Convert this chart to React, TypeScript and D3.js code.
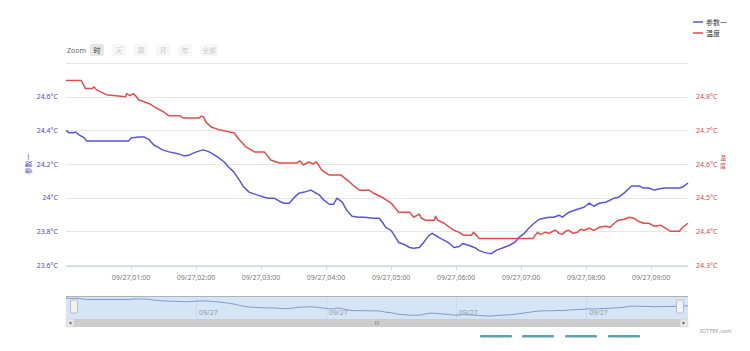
import React, { useEffect, useRef } from 'react';
import * as d3 from 'd3';

const startTime = new Date(2018, 8, 27, 0, 0);
const seriesNames = ['参数一', '温度'];
const leftTicks = [23.6, 23.8, 24, 24.2, 24.4, 24.6, 24.8];
const rightTicks = [24.3, 24.4, 24.5, 24.6, 24.7, 24.8, 24.9];
const zoomButtons = ['时', '天', '周', '月', '年', '全部'];

// [minutes after 00:00, value]
const param1: [number, number][] = [
  [0, 24.4], [3, 24.385], [7, 24.385], [9, 24.39], [12, 24.373], [17, 24.355], [19, 24.337],
  [58, 24.337], [60, 24.355], [67, 24.361], [72, 24.361], [77, 24.343], [81, 24.313],
  [86, 24.296], [89, 24.284], [95, 24.272], [100, 24.266], [104, 24.26], [109, 24.248],
  [114, 24.254], [118, 24.266], [123, 24.278], [127, 24.284], [132, 24.272], [137, 24.254],
  [141, 24.236], [146, 24.212], [150, 24.182], [155, 24.152], [160, 24.104], [164, 24.063],
  [169, 24.033], [174, 24.021], [183, 24.003], [187, 23.997], [192, 23.997], [197, 23.979],
  [201, 23.967], [206, 23.967], [210, 23.997], [215, 24.027], [220, 24.033], [226, 24.045],
  [234, 24.015], [238, 23.985], [243, 23.961], [247, 23.961], [250, 23.997], [255, 23.973],
  [259, 23.925], [264, 23.89], [270, 23.884], [275, 23.884], [284, 23.878], [289, 23.878],
  [292, 23.854], [295, 23.824], [300, 23.806], [303, 23.776], [307, 23.734], [312, 23.722],
  [317, 23.704], [321, 23.699], [326, 23.704], [330, 23.734], [335, 23.776], [338, 23.788],
  [344, 23.764], [349, 23.746], [354, 23.728], [358, 23.704], [363, 23.71], [366, 23.728],
  [372, 23.716], [377, 23.704], [381, 23.687], [386, 23.675], [390, 23.669], [393, 23.669],
  [397, 23.687], [404, 23.704], [409, 23.716], [414, 23.734], [418, 23.764], [423, 23.788],
  [427, 23.818], [432, 23.848], [437, 23.872], [441, 23.878], [446, 23.884], [450, 23.884],
  [455, 23.896], [458, 23.884], [464, 23.913], [472, 23.931], [478, 23.943], [483, 23.967],
  [487, 23.949], [492, 23.967], [498, 23.973], [506, 23.997], [510, 24.003], [515, 24.027],
  [520, 24.057], [522, 24.069], [529, 24.069], [533, 24.057], [538, 24.057], [543, 24.045],
  [547, 24.051], [552, 24.057], [561, 24.057], [566, 24.057], [569, 24.063], [574, 24.087],
];

const temperature: [number, number][] = [
  [0, 24.848], [14, 24.848], [18, 24.824], [24, 24.824], [26, 24.829], [28, 24.821],
  [37, 24.806], [55, 24.8], [56, 24.809], [59, 24.803], [62, 24.809], [65, 24.8],
  [67, 24.791], [77, 24.779], [83, 24.767], [90, 24.755], [95, 24.743], [105, 24.743],
  [108, 24.737], [123, 24.737], [125, 24.742], [127, 24.74], [129, 24.725], [134, 24.71],
  [141, 24.702], [150, 24.696], [155, 24.693], [160, 24.672], [166, 24.651], [174, 24.636],
  [183, 24.636], [189, 24.612], [197, 24.603], [213, 24.603], [216, 24.609], [219, 24.597],
  [224, 24.606], [228, 24.6], [231, 24.606], [233, 24.597], [236, 24.582], [243, 24.567],
  [254, 24.567], [256, 24.561], [262, 24.546], [266, 24.534], [271, 24.522], [280, 24.522],
  [284, 24.513], [293, 24.499], [300, 24.484], [303, 24.472], [307, 24.457], [317, 24.457],
  [321, 24.442], [326, 24.451], [328, 24.439], [332, 24.433], [340, 24.433], [341, 24.445],
  [343, 24.433], [349, 24.424], [354, 24.412], [358, 24.403], [363, 24.397], [367, 24.388],
  [374, 24.388], [376, 24.397], [379, 24.388], [381, 24.379], [431, 24.379], [435, 24.397],
  [438, 24.391], [442, 24.397], [446, 24.394], [449, 24.4], [452, 24.403], [455, 24.394],
  [458, 24.391], [461, 24.4], [464, 24.403], [468, 24.394], [472, 24.397], [475, 24.406],
  [478, 24.403], [483, 24.409], [487, 24.403], [492, 24.412], [498, 24.415], [502, 24.412],
  [506, 24.424], [510, 24.433], [515, 24.436], [520, 24.442], [524, 24.439], [528, 24.43],
  [533, 24.424], [538, 24.424], [543, 24.415], [549, 24.418], [552, 24.412], [558, 24.4],
  [566, 24.4], [569, 24.412], [574, 24.424],
];

const toDate = (m: number) => new Date(startTime.getTime() + m * 60000);

const App = () => {
  const ref = useRef<SVGSVGElement>(null);

  useEffect(() => {
    const width = 750;
    const height = 351;
    const left = 66;
    const right = 688;
    const top = 63;
    const bottom = 265;
    const font = '"Lucida Grande", "Noto Sans", "Noto Sans CJK SC", sans-serif';
    const blue = '#5656d8';
    const red = '#e04d4d';

    const svg = d3.select(ref.current!);
    svg.selectAll('*').remove();
    svg.attr('width', width).attr('height', height).style('font-family', font);

    const lastMin = param1[param1.length - 1][0];
    const x = d3.scaleTime().domain([startTime, toDate(lastMin)]).range([left, right]);
    const yLeft = d3.scaleLinear().domain([23.6, 24.8]).range([bottom, top]);
    const yRight = d3.scaleLinear().domain([24.3, 24.9]).range([bottom, top]);

    // Range selector
    svg.append('text')
      .attr('x', 67).attr('y', 53)
      .attr('font-size', '7px').attr('fill', '#666')
      .text('Zoom');
    zoomButtons.forEach((b, i) => {
      const bx = 90 + i * 22;
      const bw = b.length > 1 ? 18 : 14;
      svg.append('rect')
        .attr('x', bx).attr('y', 44).attr('width', bw).attr('height', 12)
        .attr('rx', 2)
        .attr('fill', i === 0 ? '#e6e6e6' : '#f7f7f7');
      svg.append('text')
        .attr('x', bx + bw / 2).attr('y', 53)
        .attr('text-anchor', 'middle')
        .attr('font-size', '7px')
        .attr('fill', i === 0 ? '#333' : '#ccc')
        .text(b);
    });

    // Legend
    [blue, red].forEach((c, i) => {
      const ly = 22 + i * 11;
      svg.append('line')
        .attr('x1', 693).attr('x2', 703).attr('y1', ly).attr('y2', ly)
        .attr('stroke', c).attr('stroke-width', 1.5);
      svg.append('text')
        .attr('x', 706).attr('y', ly + 2.5)
        .attr('font-size', '7px').attr('fill', '#333')
        .text(seriesNames[i]);
    });

    // Grid
    svg.append('g')
      .selectAll('line')
      .data(leftTicks)
      .enter()
      .append('line')
      .attr('x1', left).attr('x2', right)
      .attr('y1', d => Math.round(yLeft(d)) + 0.5)
      .attr('y2', d => Math.round(yLeft(d)) + 0.5)
      .attr('stroke', '#e6e6e6');

    // Y labels (top one hidden)
    svg.append('g')
      .selectAll('text')
      .data(leftTicks.slice(0, -1))
      .enter()
      .append('text')
      .attr('x', 58).attr('y', d => yLeft(d) + 2.5)
      .attr('text-anchor', 'end')
      .attr('font-size', '7px').attr('fill', '#4a4ab8')
      .text(d => `${d}°C`);

    svg.append('g')
      .selectAll('text')
      .data(rightTicks.slice(0, -1))
      .enter()
      .append('text')
      .attr('x', 696).attr('y', d => yRight(d) + 2.5)
      .attr('font-size', '7px').attr('fill', '#cc4a4a')
      .text(d => `${d}°C`);

    // Axis titles
    svg.append('text')
      .attr('transform', `translate(31,${(top + bottom) / 2}) rotate(-90)`)
      .attr('text-anchor', 'middle')
      .attr('font-size', '7px').attr('fill', '#4a4ab8')
      .text(seriesNames[0]);
    const rt = svg.append('text')
      .attr('x', 723).attr('y', 160)
      .attr('text-anchor', 'middle')
      .attr('font-size', '6px').attr('fill', '#cc4a4a');
    rt.append('tspan').attr('x', 723).attr('dy', 0).text('温');
    rt.append('tspan').attr('x', 723).attr('dy', 8).text('度');

    // X axis
    svg.append('line')
      .attr('x1', left).attr('x2', right).attr('y1', bottom + 1.5).attr('y2', bottom + 1.5)
      .attr('stroke', '#ccd6eb');
    const hourTicks = x.ticks(d3.timeHour.every(1)!).filter(d => d.getHours() > 0);
    const fmt = d3.timeFormat('%m/%d,%H:%M');
    svg.append('g')
      .selectAll('line')
      .data(hourTicks)
      .enter()
      .append('line')
      .attr('x1', d => Math.round(x(d)) + 0.5).attr('x2', d => Math.round(x(d)) + 0.5)
      .attr('y1', bottom + 1).attr('y2', bottom + 5)
      .attr('stroke', '#ccd6eb');
    svg.append('g')
      .selectAll('text')
      .data(hourTicks)
      .enter()
      .append('text')
      .attr('x', d => x(d)).attr('y', 280)
      .attr('text-anchor', 'middle')
      .attr('font-size', '7px').attr('fill', '#777')
      .text(d => fmt(d));

    // Series
    const lineLeft = d3.line<[number, number]>()
      .x(d => x(toDate(d[0])))
      .y(d => yLeft(d[1]));
    const lineRight = d3.line<[number, number]>()
      .x(d => x(toDate(d[0])))
      .y(d => yRight(d[1]));

    svg.append('path')
      .datum(param1)
      .attr('d', lineLeft)
      .attr('fill', 'none')
      .attr('stroke', blue)
      .attr('stroke-width', 1.5)
      .attr('stroke-linejoin', 'round');
    svg.append('path')
      .datum(temperature)
      .attr('d', lineRight)
      .attr('fill', 'none')
      .attr('stroke', red)
      .attr('stroke-width', 1.5)
      .attr('stroke-linejoin', 'round');

    // Navigator
    const navTop = 296;
    const navBottom = 319;
    svg.append('rect')
      .attr('x', left).attr('y', navTop).attr('width', right - left).attr('height', navBottom - navTop)
      .attr('fill', '#d6e5f6');
    const navTicks = x.ticks(d3.timeHour.every(2)!).filter(d => d.getHours() > 0);
    svg.append('g')
      .selectAll('line')
      .data(navTicks)
      .enter()
      .append('line')
      .attr('x1', d => Math.round(x(d)) + 0.5).attr('x2', d => Math.round(x(d)) + 0.5)
      .attr('y1', navTop).attr('y2', navBottom)
      .attr('stroke', '#c9d9ee');
    svg.append('g')
      .selectAll('text')
      .data(navTicks)
      .enter()
      .append('text')
      .attr('x', d => x(d) + 3).attr('y', 315)
      .attr('font-size', '7px').attr('fill', '#999')
      .text(d => d3.timeFormat('%m/%d')(d));
    const yNav = d3.scaleLinear()
      .domain(d3.extent(param1, d => d[1]) as [number, number])
      .range([316, 298]);
    svg.append('path')
      .datum(param1)
      .attr('d', d3.line<[number, number]>().x(d => x(toDate(d[0]))).y(d => yNav(d[1])))
      .attr('fill', 'none')
      .attr('stroke', '#7d9bd1')
      .attr('stroke-width', 1);
    svg.append('line')
      .attr('x1', left).attr('x2', right).attr('y1', navTop + 0.5).attr('y2', navTop + 0.5)
      .attr('stroke', '#b2b1b6');

    [74, 680].forEach(hx => {
      svg.append('rect')
        .attr('x', hx - 3.5).attr('y', 300).attr('width', 7).attr('height', 13)
        .attr('rx', 2)
        .attr('fill', '#f2f2f2').attr('stroke', '#aaa').attr('stroke-width', 0.7);
    });

    // Scrollbar
    svg.append('rect')
      .attr('x', left).attr('y', navBottom).attr('width', right - left).attr('height', 8)
      .attr('fill', '#cccccc');
    [left, right - 8].forEach((bx, i) => {
      svg.append('rect')
        .attr('x', bx).attr('y', navBottom).attr('width', 8).attr('height', 8)
        .attr('fill', '#e6e6e6').attr('stroke', '#cccccc').attr('stroke-width', 0.5);
      const cx = bx + 4;
      const pts = i === 0
        ? `${cx + 1.5},${navBottom + 2.5} ${cx - 1.5},${navBottom + 4} ${cx + 1.5},${navBottom + 5.5}`
        : `${cx - 1.5},${navBottom + 2.5} ${cx + 1.5},${navBottom + 4} ${cx - 1.5},${navBottom + 5.5}`;
      svg.append('polygon').attr('points', pts).attr('fill', '#666');
    });
    [-1.5, 0, 1.5].forEach(dx => {
      svg.append('line')
        .attr('x1', 377 + dx).attr('x2', 377 + dx)
        .attr('y1', navBottom + 2).attr('y2', navBottom + 6)
        .attr('stroke', '#888').attr('stroke-width', 0.6);
    });

    // Credit
    svg.append('text')
      .attr('x', 700).attr('y', 333)
      .attr('font-size', '5.5px').attr('fill', '#999')
      .text('IOTTEK.com');

    // Buttons below (cut off)
    [480, 522, 565, 608].forEach(bx => {
      svg.append('rect')
        .attr('x', bx).attr('y', 335).attr('width', 32).attr('height', 2.5)
        .attr('rx', 1)
        .attr('fill', '#5f9fb1');
    });
  }, []);

  return (
    <svg ref={ref} style={{ position: 'absolute', left: 0, top: 0, background: '#fff' }} />
  );
};

export default App;
